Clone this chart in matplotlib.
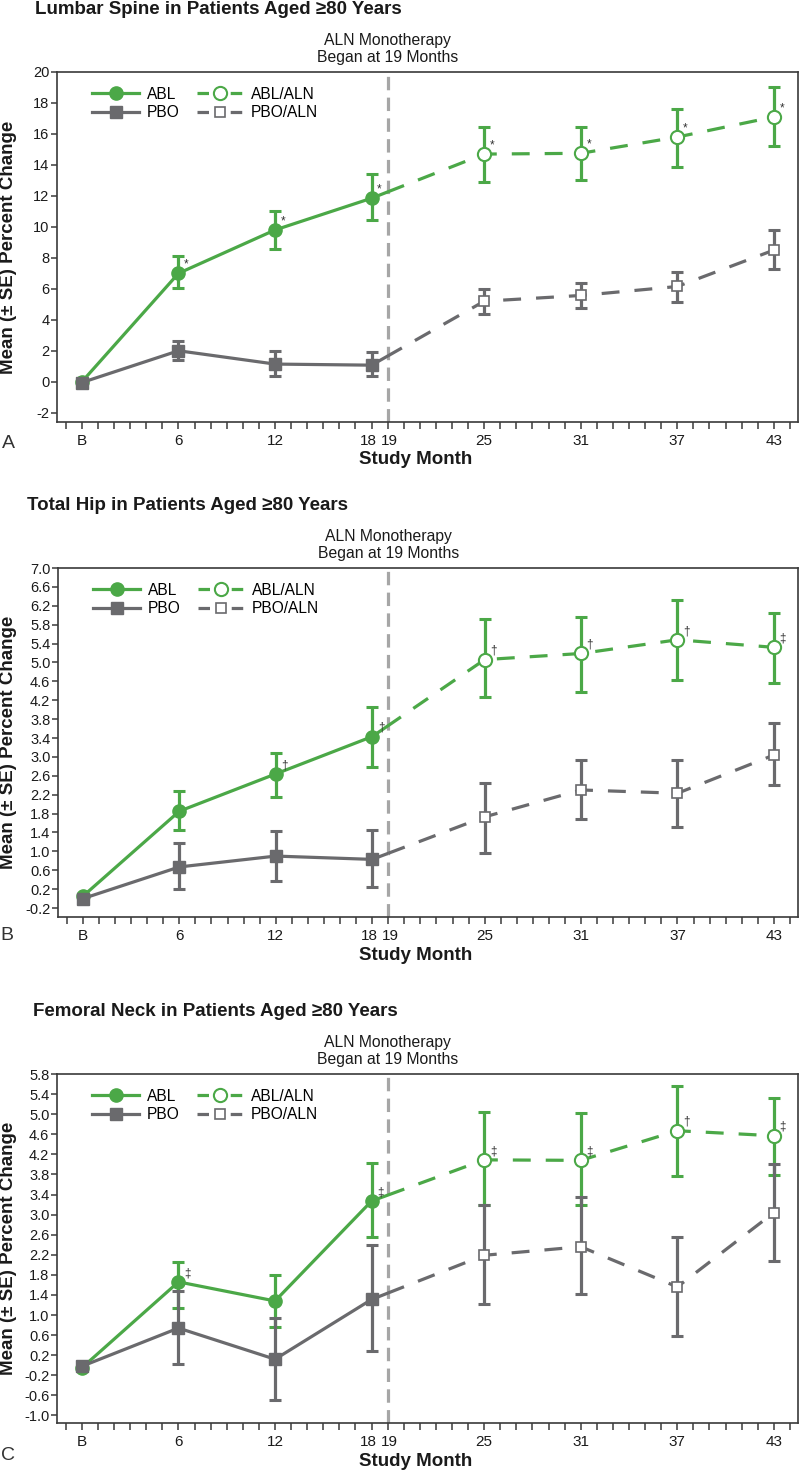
import numpy as np
import matplotlib
matplotlib.use("Agg")
import matplotlib.pyplot as plt
from matplotlib.lines import Line2D
from matplotlib.patches import Rectangle
import matplotlib.transforms as mtransforms

plt.rcParams['font.family'] = ['Liberation Sans', 'DejaVu Sans']

# ---------------- data ----------------
months_abl = [0, 6, 12, 18]          # B, 6, 12, 18 (double-blind phase)
months_aln = [25, 31, 37, 43]        # ALN monotherapy phase
switch_month = 19
xtick_pos = [0, 6, 12, 18, 19, 25, 31, 37, 43]
xtick_labels = ['B', '6', '12', '18', '19', '25', '31', '37', '43']

titles = ['Lumbar Spine in Patients Aged \u226580 Years',
          'Total Hip in Patients Aged \u226580 Years',
          'Femoral Neck in Patients Aged \u226580 Years']
panel_letters = ['A', 'B', 'C']

# Lumbar spine
lum_abl = [0.0, 7.0, 9.8, 11.85]
lum_abl_lo = [6.04, 8.55, 10.45]
lum_abl_hi = [8.1, 11.0, 13.4]
lum_pbo = [-0.05, 2.0, 1.14, 1.07]
lum_pbo_lo = [1.42, 0.34, 0.34]
lum_pbo_hi = [2.6, 2.0, 1.95]
lum_abl_aln = [14.7, 14.75, 15.8, 17.1]
lum_abl_aln_lo = [12.9, 13.03, 13.85, 15.25]
lum_abl_aln_hi = [16.47, 16.47, 17.6, 19.0]
lum_pbo_aln = [5.2, 5.57, 6.15, 8.5]
lum_pbo_aln_lo = [4.4, 4.75, 5.14, 7.27]
lum_pbo_aln_hi = [6.0, 6.37, 7.1, 9.8]
lum_sig_abl = ['', '*', '*', '*']
lum_sig_aln = ['*', '*', '*', '*']

# Total hip
hip_abl = [0.05, 1.85, 2.64, 3.43]
hip_abl_lo = [1.45, 2.16, 2.79]
hip_abl_hi = [2.28, 3.09, 4.06]
hip_pbo = [0.0, 0.67, 0.9, 0.83]
hip_pbo_lo = [0.2, 0.37, 0.25]
hip_pbo_hi = [1.17, 1.44, 1.46]
hip_abl_aln = [5.06, 5.19, 5.48, 5.32]
hip_abl_aln_lo = [4.26, 4.37, 4.63, 4.56]
hip_abl_aln_hi = [5.93, 5.97, 6.32, 6.05]
hip_pbo_aln = [1.73, 2.3, 2.23, 3.04]
hip_pbo_aln_lo = [0.97, 1.68, 1.52, 2.4]
hip_pbo_aln_hi = [2.45, 2.94, 2.94, 3.72]
hip_sig_abl = ['', '', '\u2020', '\u2020']
hip_sig_aln = ['\u2020', '\u2020', '\u2020', '\u2021']

# Femoral neck
fn_abl = [-0.05, 1.66, 1.28, 3.27]
fn_abl_lo = [1.14, 0.76, 2.56]
fn_abl_hi = [2.06, 1.79, 4.02]
fn_pbo = [-0.02, 0.74, 0.12, 1.31]
fn_pbo_lo = [0.03, -0.69, 0.28]
fn_pbo_hi = [1.47, 0.95, 2.39]
fn_abl_aln = [4.09, 4.08, 4.67, 4.57]
fn_abl_aln_lo = [3.2, 3.2, 3.77, 3.79]
fn_abl_aln_hi = [5.04, 5.03, 5.57, 5.32]
fn_pbo_aln = [2.19, 2.36, 1.56, 3.04]
fn_pbo_aln_lo = [1.22, 1.41, 0.58, 2.07]
fn_pbo_aln_hi = [3.19, 3.36, 2.55, 4.01]
fn_sig_abl = ['', '\u2021', '', '\u2021']
fn_sig_aln = ['\u2021', '\u2021', '\u2020', '\u2021']

# y-axis setups
ylims = [(-2.6, 20.0), (-0.39, 7.0), (-1.15, 5.8)]
yticks = [np.arange(-2, 20.01, 2), np.arange(-0.2, 7.01, 0.4), np.arange(-1.0, 5.81, 0.4)]
yfmt = ['{:.0f}', '{:.1f}', '{:.1f}']

panels = [
    dict(abl=lum_abl, abl_lo=lum_abl_lo, abl_hi=lum_abl_hi,
         pbo=lum_pbo, pbo_lo=lum_pbo_lo, pbo_hi=lum_pbo_hi,
         abl_aln=lum_abl_aln, abl_aln_lo=lum_abl_aln_lo, abl_aln_hi=lum_abl_aln_hi,
         pbo_aln=lum_pbo_aln, pbo_aln_lo=lum_pbo_aln_lo, pbo_aln_hi=lum_pbo_aln_hi,
         sig_abl=lum_sig_abl, sig_aln=lum_sig_aln),
    dict(abl=hip_abl, abl_lo=hip_abl_lo, abl_hi=hip_abl_hi,
         pbo=hip_pbo, pbo_lo=hip_pbo_lo, pbo_hi=hip_pbo_hi,
         abl_aln=hip_abl_aln, abl_aln_lo=hip_abl_aln_lo, abl_aln_hi=hip_abl_aln_hi,
         pbo_aln=hip_pbo_aln, pbo_aln_lo=hip_pbo_aln_lo, pbo_aln_hi=hip_pbo_aln_hi,
         sig_abl=hip_sig_abl, sig_aln=hip_sig_aln),
    dict(abl=fn_abl, abl_lo=fn_abl_lo, abl_hi=fn_abl_hi,
         pbo=fn_pbo, pbo_lo=fn_pbo_lo, pbo_hi=fn_pbo_hi,
         abl_aln=fn_abl_aln, abl_aln_lo=fn_abl_aln_lo, abl_aln_hi=fn_abl_aln_hi,
         pbo_aln=fn_pbo_aln, pbo_aln_lo=fn_pbo_aln_lo, pbo_aln_hi=fn_pbo_aln_hi,
         sig_abl=fn_sig_abl, sig_aln=fn_sig_aln),
]

# ---------------- style ----------------
GREEN = '#4ba847'
GRAY = '#6a6a6d'
VLINE = '#a6a6a6'
SPINE = '#3a3a3a'
TXT = '#1a1a1a'
LW = 2.3
DASH = (5.0, (5.6, 4.7))
W, H = 800, 1474

fig = plt.figure(figsize=(W / 100, H / 100), dpi=100)

# axes boxes in pixels: (left, top, right, bottom)
boxes = [(57, 72, 798, 422), (58, 568, 798, 917), (57, 1074, 798, 1423)]
title_pos = [(35, 10), (27, 505), (33, 1012)]
letter_pos = [(8, 443), (7, 936), (8, 1456)]
label_shift = {'18': -3, '19': 2}


def errs(mean, lo, hi):
    m = np.asarray(mean)
    return np.vstack([m - np.asarray(lo), np.asarray(hi) - m])


for i, p in enumerate(panels):
    l, t, r, b = boxes[i]
    ax = fig.add_axes([l / W, 1 - b / H, (r - l) / W, (b - t) / H])
    ax.set_xlim(-1.55, 44.5)
    ax.set_ylim(*ylims[i])

    # spines / ticks
    for s in ax.spines.values():
        s.set_color(SPINE)
        s.set_linewidth(1.2)
    ax.set_xticks(np.arange(-1, 45, 1), minor=True)
    ax.set_xticks(xtick_pos)
    ax.set_xticklabels(xtick_labels)
    ax.tick_params(axis='x', which='both', direction='out', length=5, width=1.1,
                   color=SPINE, labelsize=11, pad=3.5, labelcolor=TXT)
    for lab in ax.get_xticklabels():
        dx = label_shift.get(lab.get_text(), 0)
        if dx:
            lab.set_transform(lab.get_transform() +
                              mtransforms.ScaledTranslation(dx / 100, 0, fig.dpi_scale_trans))
    ax.set_yticks(yticks[i])
    ax.set_yticklabels([yfmt[i].format(v + 0.0) for v in np.round(yticks[i], 1)])
    ax.tick_params(axis='y', direction='out', length=4, width=1.1, color=SPINE,
                   labelsize=10.5, pad=1.5, labelcolor=TXT)

    blend = mtransforms.blended_transform_factory(ax.transData, ax.transAxes)

    # vertical switch line
    ax.axvline(switch_month, color=VLINE, lw=2.3, ls=(0, (4.2, 2.3)), zorder=1)
    ax.annotate('ALN Monotherapy\nBegan at 19 Months', xy=(switch_month, 1.0),
                xycoords=blend, xytext=(0, 5), textcoords='offset points',
                ha='center', va='bottom', fontsize=11.3, color=TXT, linespacing=1.15)

    clip_left = Rectangle((-10, -1), 10 + switch_month, 3, transform=blend)
    clip_right = Rectangle((switch_month, -1), 100, 3, transform=blend)

    for key, color, mk, ms, zo in [('abl', GREEN, 'o', 9.5, 3), ('pbo', GRAY, 's', 8, 4)]:
        y1 = p[key]
        y2 = p[key + '_aln']
        # solid line (double-blind) up to switch, dashed after
        ln1, = ax.plot(months_abl + [months_aln[0]], y1 + [y2[0]], color=color,
                       lw=LW, zorder=zo, solid_capstyle='butt')
        ln1.set_clip_path(clip_left)
        ln2, = ax.plot([months_abl[-1]] + months_aln, [y1[-1]] + y2, color=color,
                       lw=LW, ls=DASH, zorder=zo, dash_capstyle='butt')
        ln2.set_clip_path(clip_right)
        # error bars
        ax.errorbar(months_abl[1:], y1[1:], yerr=errs(y1[1:], p[key + '_lo'], p[key + '_hi']),
                    fmt='none', ecolor=color, elinewidth=LW, capsize=4, capthick=2.2, zorder=zo)
        ax.errorbar(months_aln, y2, yerr=errs(y2, p[key + '_aln_lo'], p[key + '_aln_hi']),
                    fmt='none', ecolor=color, elinewidth=LW, capsize=4, capthick=2.2, zorder=zo)
        # markers
        ax.plot(months_abl, y1, ls='none', marker=mk, ms=ms, color=color, mec=color, zorder=zo + 0.5)
        if mk == 'o':
            ax.plot(months_aln, y2, ls='none', marker='o', ms=9.5, mfc='white', mec=color,
                    mew=1.5, zorder=zo + 0.5)
        else:
            ax.plot(months_aln, y2, ls='none', marker='s', ms=7.5, mfc='white', mec=color,
                    mew=1.2, zorder=zo + 0.5)

    # significance symbols
    for xs, ys, syms in [(months_abl, p['abl'], p['sig_abl']), (months_aln, p['abl_aln'], p['sig_aln'])]:
        for x, y, s in zip(xs, ys, syms):
            if s:
                ax.annotate(s, xy=(x, y), xytext=(4, 2), textcoords='offset points',
                            ha='left', va='bottom', fontsize=8.5, color='#333333', zorder=6)

    # legend
    h_abl = Line2D([], [], color=GREEN, lw=LW, marker='o', ms=9.5)
    h_pbo = Line2D([], [], color=GRAY, lw=LW, marker='s', ms=8)
    h_abl_aln = Line2D([], [], color=GREEN, lw=LW, ls=(0, (3.6, 6.8)), marker='o', ms=9.5,
                       mfc='white', mec=GREEN, mew=1.5)
    h_pbo_aln = Line2D([], [], color=GRAY, lw=LW, ls=(0, (3.6, 6.8)), marker='s', ms=7.5,
                       mfc='white', mec=GRAY, mew=1.2)
    ax.legend([h_abl, h_pbo, h_abl_aln, h_pbo_aln], ['ABL', 'PBO', 'ABL/ALN', 'PBO/ALN'],
              loc='upper left', bbox_to_anchor=(0.035, 0.985), ncol=2, frameon=False,
              fontsize=11.2, handlelength=3.0, handletextpad=0.5, columnspacing=1.1,
              labelspacing=0.25, borderaxespad=0.2)

    # axis labels
    ax.set_ylabel('Mean (\u00b1 SE) Percent Change', fontsize=13.5, fontweight='bold', color=TXT)
    ax.yaxis.set_label_coords((9 - l) / (r - l), 0.5)
    ax.yaxis.label.set_va('center')
    ax.set_xlabel('Study Month', fontsize=13.5, fontweight='bold', color=TXT)
    ax.xaxis.set_label_coords((416 - l) / (r - l), -38 / (b - t))
    ax.xaxis.label.set_va('center')

    # title and panel letter
    fig.text(title_pos[i][0] / W, 1 - title_pos[i][1] / H, titles[i], fontsize=13.5,
             fontweight='bold', va='center', ha='left', color=TXT)
    fig.text(letter_pos[i][0] / W, 1 - letter_pos[i][1] / H, panel_letters[i], fontsize=14,
             va='center', ha='center', color='#333333', fontweight='normal')

fig.savefig('out.png', dpi=100)
